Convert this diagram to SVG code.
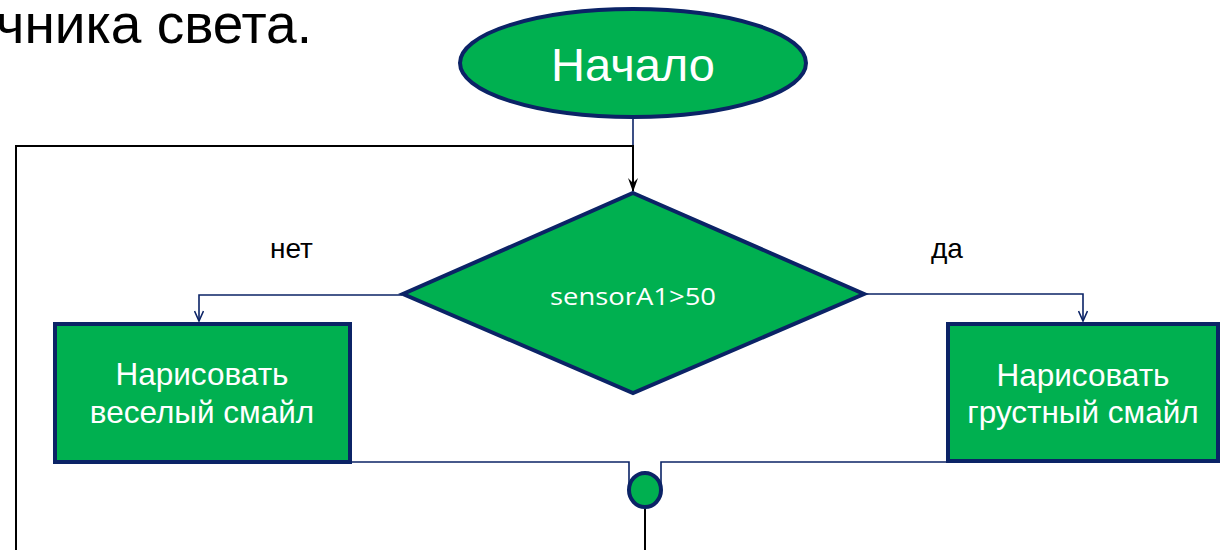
<svg xmlns="http://www.w3.org/2000/svg" width="1225" height="550" viewBox="0 0 1225 550">
<style>
.shape{fill:#00B050;stroke:#0B2366;stroke-width:4;stroke-linejoin:miter}
.lbl{font-family:"Liberation Sans",Arial,sans-serif;fill:#fff;text-anchor:middle}
.blk{font-family:"Liberation Sans",Arial,sans-serif;fill:#000}
.nv{fill:none;stroke:#0B2366;stroke-width:1.6}
.bk{fill:none;stroke:#000;stroke-width:2}
</style>
<defs>
<marker id="an" viewBox="0 0 12 10" refX="11" refY="5" markerWidth="12" markerHeight="10" markerUnits="userSpaceOnUse" orient="auto">
<path d="M1,0.5 L11,5 L1,9.5" fill="none" stroke="#0B2366" stroke-width="1.6"/>
</marker>
<marker id="ab" viewBox="0 0 14 10" refX="13" refY="5" markerWidth="14" markerHeight="10" markerUnits="userSpaceOnUse" orient="auto">
<path d="M0,0 L5,5 L0,10 L14,5 Z" fill="#000"/>
</marker>
</defs>
<text class="blk" x="312" y="43" font-size="55" text-anchor="end">чника света.</text>
<g id="connectors">
<path class="nv" d="M633,119 V146"/>
<path class="bk" d="M16,550 V146 H633 V191" marker-end="url(#ab)"/>
<path class="nv" d="M402,295 H199 V321" marker-end="url(#an)"/>
<path class="nv" d="M865,294 H1083 V321" marker-end="url(#an)"/>
<path class="nv" d="M352,462 H629 V490"/>
<path class="nv" d="M946,462 H661 V490"/>
<path class="bk" d="M645,507 V550"/>
</g>
<g id="start">
<ellipse class="shape" cx="633" cy="63" rx="173" ry="54"/>
<text class="lbl" x="633" y="81" font-size="47">Начало</text>
</g>
<g id="decision">
<polygon class="shape" points="633,193 864,294 633,393 403,294"/>
<text x="633" y="305" font-size="24" fill="#fff" text-anchor="middle" font-family="'Open Sans',Carlito,Calibri,sans-serif" textLength="166" lengthAdjust="spacingAndGlyphs">sensorA1&gt;50</text>
</g>
<g id="happy">
<rect class="shape" x="55" y="324" width="295" height="138"/>
<text class="lbl" x="202" y="385" font-size="31.5">Нарисовать</text>
<text class="lbl" x="202" y="423" font-size="31.5">веселый смайл</text>
</g>
<g id="sad">
<rect class="shape" x="948" y="324" width="270" height="137"/>
<text class="lbl" x="1083" y="386" font-size="31.5">Нарисовать</text>
<text class="lbl" x="1083" y="423" font-size="31.5">грустный смайл</text>
</g>
<g id="join">
<ellipse class="shape" cx="645" cy="490" rx="16" ry="17"/>
</g>
<text class="blk" x="270" y="258" font-size="28">нет</text>
<text class="blk" x="931" y="258" font-size="28">да</text>
</svg>
